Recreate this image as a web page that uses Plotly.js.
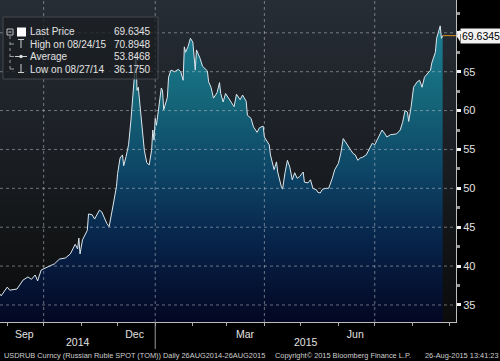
<!DOCTYPE html>
<html>
<head>
<meta charset="utf-8">
<script src="https://cdn.plot.ly/plotly-3.0.1.min.js"></script>
<style>
  html, body { margin: 0; padding: 0; background: #000; width: 500px; height: 361px; overflow: hidden; }
  #bg { position: absolute; left: 0; top: 0; width: 456px; height: 322px; z-index: 0;
        background: linear-gradient(to bottom, #262d35 0%, #1d2127 40%, #121416 75%, #0b0b0c 100%); }
  #chart { position: absolute; left: 0; top: 0; width: 500px; height: 361px; z-index: 1; }
</style>
</head>
<body>
<div id="bg"></div>
<div id="chart"></div>
<script>
// ---- data ----
const dates = [
 '2014-08-26','2014-08-27','2014-09-01','2014-09-03','2014-09-09','2014-09-14','2014-09-18','2014-09-21','2014-09-24','2014-09-26',
 '2014-09-29','2014-10-04','2014-10-10','2014-10-14','2014-10-19','2014-10-23','2014-10-27','2014-10-29','2014-10-30','2014-10-31',
 '2014-11-02','2014-11-06','2014-11-07','2014-11-10','2014-11-12','2014-11-16','2014-11-18','2014-11-22','2014-11-24','2014-11-27',
 '2014-11-30','2014-12-01','2014-12-03','2014-12-05','2014-12-06','2014-12-08','2014-12-10','2014-12-12','2014-12-14','2014-12-15',
 '2014-12-16','2014-12-17','2014-12-18','2014-12-19','2014-12-21','2014-12-23','2014-12-25','2014-12-27','2014-12-29','2014-12-30',
 '2014-12-31','2015-01-01','2015-01-02','2015-01-03','2015-01-06','2015-01-07','2015-01-08','2015-01-11','2015-01-12','2015-01-14',
 '2015-01-17','2015-01-20','2015-01-22','2015-01-24','2015-01-25','2015-01-26','2015-01-28','2015-01-30','2015-02-01','2015-02-03',
 '2015-02-04','2015-02-07','2015-02-09','2015-02-13','2015-02-14','2015-02-16','2015-02-18','2015-02-21','2015-02-23','2015-02-24',
 '2015-02-26','2015-02-28','2015-03-03','2015-03-05','2015-03-07','2015-03-09','2015-03-12','2015-03-14','2015-03-17','2015-03-18',
 '2015-03-21','2015-03-23','2015-03-26','2015-03-28','2015-03-31','2015-04-01','2015-04-05','2015-04-06','2015-04-09','2015-04-11',
 '2015-04-12','2015-04-15','2015-04-16','2015-04-18','2015-04-20','2015-04-22','2015-04-24','2015-04-26','2015-04-28','2015-04-30',
 '2015-05-03','2015-05-04','2015-05-07','2015-05-09','2015-05-11','2015-05-14','2015-05-15','2015-05-17','2015-05-19','2015-05-22',
 '2015-05-24','2015-05-27','2015-05-29','2015-06-01','2015-06-03','2015-06-05','2015-06-07','2015-06-09','2015-06-11','2015-06-13',
 '2015-06-15','2015-06-17','2015-06-19','2015-06-21','2015-06-24','2015-06-27','2015-06-29','2015-07-01','2015-07-04','2015-07-07',
 '2015-07-09','2015-07-11','2015-07-14','2015-07-17','2015-07-19','2015-07-22','2015-07-24','2015-07-26','2015-07-28','2015-07-29',
 '2015-07-31','2015-08-02','2015-08-05','2015-08-07','2015-08-09','2015-08-11','2015-08-14','2015-08-16','2015-08-17','2015-08-20',
 '2015-08-21','2015-08-23','2015-08-24','2015-08-25','2015-08-26'
];
const prices = [
 36.4, 36.18, 37.3, 36.9, 37.05, 38.2, 38.6, 38.3, 38.85, 38.1,
 39.5, 39.9, 40.3, 40.9, 41.05, 41.56, 42.8, 42.2, 43.6, 41.56,
 43.36, 44.6, 46.7, 46.6, 46.05, 47.2, 46.95, 45.5, 45.07, 47.6,
 50.2, 51.9, 53.9, 54.3, 52.9, 54.1, 55.6, 58.8, 62.3, 64.8,
 67.2, 62.6, 63.0, 61.4, 58.4, 54.9, 53.3, 53.0, 54.9, 57.5,
 56.2, 59.0, 58.1, 59.2, 62.9, 62.6, 60.1, 61.7, 64.3, 65.2,
 65.0, 65.3, 65.0, 63.9, 68.2, 67.5, 68.2, 69.3, 68.8, 65.2,
 67.8, 66.7, 65.7, 65.1, 63.7, 63.0, 61.6, 62.3, 63.6, 62.2,
 61.1, 62.2, 61.4, 61.0, 60.5, 62.1, 61.4, 62.0, 61.2, 59.4,
 59.0, 57.9, 57.2, 57.8, 58.0, 56.6, 55.6, 54.3, 52.4, 53.4,
 52.1, 50.2, 49.9, 52.0, 53.6, 52.7, 51.1, 52.0, 51.3, 51.5,
 52.1, 50.8, 50.7, 51.1, 50.0, 49.8, 49.5, 49.4, 49.9, 50.0,
 50.0, 51.3, 52.4, 53.2, 54.5, 56.4, 55.9, 55.5, 54.9, 54.5,
 54.3, 53.6, 53.9, 54.0, 54.3, 55.2, 55.8, 55.6, 56.6, 57.5,
 57.1, 56.6, 56.9, 57.0, 57.0, 57.5, 58.5, 60.0, 59.8, 58.6,
 60.5, 63.0, 63.7, 63.9, 63.0, 64.3, 64.8, 65.2, 66.1, 67.5,
 69.3, 70.3, 70.89, 69.3, 69.63
];
const lastPrice = 69.6345;
const xRange = ['2014-08-26', '2015-09-06'];
const yTicks = [35, 40, 45, 50, 55, 60, 65, 70];
const yTickText = ['35', '40', '45', '50', '55', '60', '65', ''];
const yMinorTicks = [32.5, 37.5, 42.5, 47.5, 52.5, 57.5, 62.5, 67.5, 72.5];
const quarterStarts = ['2014-10-01', '2015-01-01', '2015-04-01', '2015-07-01'];
const monthStarts = ['2014-09-01','2014-10-01','2014-11-01','2014-12-01','2015-01-01','2015-02-01','2015-03-01',
                     '2015-04-01','2015-05-01','2015-06-01','2015-07-01','2015-08-01','2015-09-01'];
const monthLabelDates = ['2014-09-15', '2014-12-15', '2015-03-16', '2015-06-15'];
const monthLabels = ['Sep', 'Dec', 'Mar', 'Jun'];
const yearLabelDates = ['2014-10-29', '2015-05-05'];
const yearLabels = ['2014', '2015'];
const yearBoundary = '2015-01-01';
const legendLabels = ['Last Price', 'High on 08/24/15', 'Average', 'Low on 08/27/14'];
const legendValues = ['69.6345', '70.8948', '53.8468', '36.1750'];
const footerTexts = ['USDRUB Curncy (Russian Ruble SPOT (TOM))', 'Daily 26AUG2014-26AUG2015',
                     'Copyright\u00A9 2015 Bloomberg Finance L.P.', '26-Aug-2015 13:41:23'];

// ---- layout helpers (pixel -> paper) ----
const PW = 456, PH = 322;
const px = x => x / PW;
const py = y => 1 - y / PH;
const FONT = 'Liberation Sans, Arial, sans-serif';
const TXT = '#e2e2e2';
const GRID = 'rgba(185,192,198,0.55)';

const shapes = [];
yTicks.forEach(v => shapes.push({type:'line', xref:'paper', yref:'y', x0:0, x1:1, y0:v, y1:v,
  line:{color:GRID, width:1, dash:'dot'}, layer:'above'}));
quarterStarts.forEach(d => shapes.push({type:'line', xref:'x', yref:'paper', x0:d, x1:d, y0:0, y1:1,
  line:{color:GRID, width:1, dash:'dot'}, layer:'above'}));
// year separator below axis
shapes.push({type:'line', xref:'x', yref:'paper', x0:yearBoundary, x1:yearBoundary, y0:0, y1:py(349),
  line:{color:'#9a9a9a', width:1}});
// last price marker line
shapes.push({type:'line', xref:'x', yref:'y', x0:dates[dates.length-1], x1:xRange[1], y0:lastPrice, y1:lastPrice,
  line:{color:'#d8901e', width:1}, layer:'above'});
// last price label pointer
shapes.push({type:'path', xref:'paper', yref:'y',
  path:`M ${px(456.5)},${lastPrice} L ${px(460)},${lastPrice+0.75} L ${px(460)},${lastPrice-0.75} Z`,
  fillcolor:'#f2f2f2', line:{width:0}, layer:'above'});
// legend box
shapes.push({type:'rect', xref:'paper', yref:'paper', x0:px(3), x1:px(158), y0:py(17), y1:py(79),
  fillcolor:'rgba(26,29,33,0.78)', line:{color:'#44494f', width:1}, layer:'above'});
// legend icons
const ic = (x0,y0,x1,y1,extra) => Object.assign({type:'line', xref:'paper', yref:'paper',
  x0:px(x0), x1:px(x1), y0:py(y0), y1:py(y1), line:{color:'#d0d0d0', width:1}, layer:'above'}, extra||{});
shapes.push({type:'rect', xref:'paper', yref:'paper', x0:px(7), x1:px(13), y0:py(29), y1:py(35),
  line:{color:'#bbbbbb', width:1}, fillcolor:'rgba(0,0,0,0)', layer:'above'});
shapes.push(ic(8.5,32,11.5,32));
shapes.push({type:'rect', xref:'paper', yref:'paper', x0:px(17), x1:px(26), y0:py(27.5), y1:py(36.5),
  line:{color:'#ffffff', width:0}, fillcolor:'#ffffff', layer:'above'});
shapes.push(ic(10,36,10,69,{line:{color:'#9a9a9a', width:1, dash:'dot'}}));
[44, 56.5, 69].forEach(y => shapes.push(ic(10,y,14,y,{line:{color:'#9a9a9a', width:1}})));
shapes.push(ic(18,39.5,24,39.5));
shapes.push(ic(21,39.5,21,48));
shapes.push(ic(15,56.5,27,56.5));
shapes.push({type:'circle', xref:'paper', yref:'paper', x0:px(19.3), x1:px(22.7), y0:py(54.8), y1:py(58.2),
  fillcolor:'#e0e0e0', line:{width:0}, layer:'above'});
shapes.push(ic(21,64,21,72.5));
shapes.push(ic(18,72.5,24,72.5));

const annotations = [];
const rowY = [32, 44, 56.5, 69];
legendLabels.forEach((t,i) => annotations.push({xref:'paper', yref:'paper', x:px(28), y:py(rowY[i]),
  xanchor:'left', yanchor:'middle', text:t, showarrow:false, font:{family:FONT, size:10, color:TXT}}));
legendValues.forEach((t,i) => annotations.push({xref:'paper', yref:'paper', x:px(153), y:py(rowY[i]),
  xanchor:'right', yanchor:'middle', text:t, showarrow:false, font:{family:FONT, size:10, color:TXT}}));
yearLabels.forEach((t,i) => annotations.push({xref:'x', yref:'paper', x:yearLabelDates[i], y:py(342),
  xanchor:'center', yanchor:'middle', text:t, showarrow:false, font:{family:FONT, size:10.5, color:TXT}}));
const footerX = [2, 161, 273, 423];
footerTexts.forEach((t,i) => annotations.push({xref:'paper', yref:'paper', x:px(footerX[i]), y:py(355),
  xanchor:'left', yanchor:'middle', text:t, showarrow:false, font:{family:FONT, size:7.4, color:'#cfcfcf'}}));
annotations.push({xref:'paper', yref:'y', x:px(460), y:lastPrice, xanchor:'left', yanchor:'middle',
  text:String(lastPrice), showarrow:false, bgcolor:'#f2f2f2', borderpad:1,
  font:{family:FONT, size:10.5, color:'#000'}});

const trace = {
  x: dates, y: prices, type:'scatter', mode:'lines',
  line:{color:'#dbe7ee', width:1},
  fill:'tozeroy',
  fillgradient:{type:'vertical', start:32.8, stop:71.5,
    colorscale:[[0,'#030722'],[0.25,'#072147'],[0.5,'#0d4566'],[0.75,'#156779'],[1,'#1b8096']]},
  hoverinfo:'skip'
};

const layout = {
  width:500, height:361,
  margin:{l:0, r:44, t:0, b:39, pad:0},
  paper_bgcolor:'rgba(0,0,0,0)', plot_bgcolor:'rgba(0,0,0,0)',
  showlegend:false,
  font:{family:FONT, color:TXT, size:11},
  xaxis:{type:'date', range:xRange, tickvals:monthLabelDates, ticktext:monthLabels,
    ticks:'', showgrid:false, zeroline:false, ticklabelstandoff:2,
    tickfont:{family:FONT, size:10.5, color:TXT},
    showline:true, linecolor:'#bdbdbd', linewidth:1,
    minor:{tickvals:monthStarts, ticks:'outside', ticklen:3, tickcolor:'#aaaaaa', showgrid:false}},
  yaxis:{range:[32.81, 74.22], side:'right', tickvals:yTicks, ticktext:yTickText,
    ticks:'outside', ticklen:4, tickwidth:3, tickcolor:'#f4f4f4', showgrid:false, zeroline:false,
    showline:true, linecolor:'#bdbdbd', linewidth:1,
    tickfont:{family:FONT, size:11, color:TXT},
    minor:{tickvals:yMinorTicks, ticks:'outside', ticklen:3, tickcolor:'#999999', showgrid:false}},
  shapes:shapes, annotations:annotations
};

Plotly.newPlot('chart', [trace], layout, {staticPlot:true, displayModeBar:false});
</script>
</body>
</html>
